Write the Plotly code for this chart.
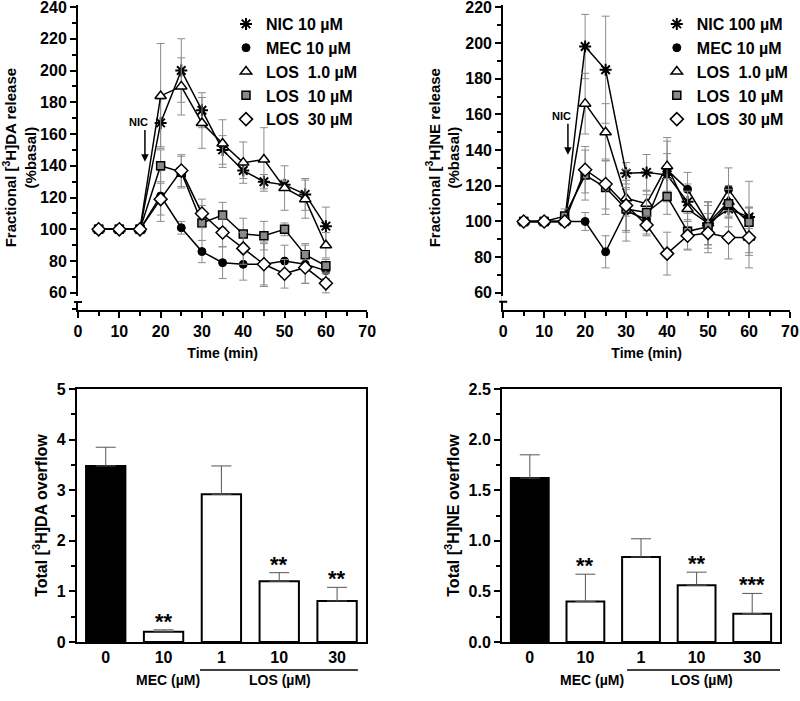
import plotly.graph_objects as go

# ---------------- data ----------------
time_min = [5, 10, 15, 20, 25, 30, 35, 40, 45, 50, 55, 60]

# [3H]DA fractional release (% basal)
nic_da = [100, 100, 100, 167, 200, 175, 150, 137, 130, 128, 122, 102]
nic_da_err = [0, 0, 0, 15, 20, 11, 9, 5, 4.5, 3, 10, 12]
mec_da = [100, 100, 100, 121, 101, 86, 79, 78, 78, 80, 78, 74]
mec_da_err = [0, 0, 0, 16, 4, 7, 10, 10, 13, 10, 12, 5]
los1_da = [100, 100, 100, 184, 190, 167, 154, 142, 144, 126, 119, 90]
los1_da_err = [0, 0, 0, 33, 18, 16, 15, 13, 20, 14, 12, 8]
los10_da = [100, 100, 100, 140, 136, 104, 109, 97, 96, 100, 84, 77]
los10_da_err = [0, 0, 0, 10, 10, 11, 8, 10, 9, 4, 7, 4]
los30_da = [100, 100, 100, 119, 137, 110, 98, 88, 78, 72, 76, 66]
los30_da_err = [0, 0, 0, 10, 10, 9, 9, 10, 14, 9, 10, 6]

# [3H]NE fractional release (% basal)
nic_ne = [100, 100, 100, 198, 185, 127, 127.5, 126, 111, 99, 107, 102.5]
nic_ne_err = [0, 0, 0, 18, 30, 6, 10, 12, 10, 12, 10, 20]
mec_ne = [100, 100, 100, 100, 83, 106, 101, 129, 118, 99, 118, 102]
mec_ne_err = [0, 0, 0, 5, 9, 12, 9, 18, 9.5, 12, 12, 6]
los1_ne = [100, 100, 100, 166, 150, 113, 110, 131, 107, 99, 111, 91]
los1_ne_err = [0, 0, 0, 17, 16, 10, 7, 14, 10, 12, 9, 10]
los10_ne = [100, 100, 103, 126, 119, 107, 105, 114, 94.5, 97, 110, 99.5]
los10_ne_err = [0, 0, 4, 14, 15, 12, 10, 10, 10, 12, 8, 8]
los30_ne = [100, 100, 100, 129, 121, 109, 98, 82, 92, 93.5, 91, 91]
los30_ne_err = [0, 0, 0, 13, 14, 20, 5, 12, 8, 11, 12, 17]

# Total overflow bars
bar_labels = ["0", "10", "1", "10", "30"]
da_total = [3.48, 0.2, 2.92, 1.2, 0.81]
da_total_err = [0.37, 0.04, 0.56, 0.17, 0.27]
da_stars = ["", "**", "", "**", "**"]
ne_total = [1.62, 0.4, 0.84, 0.56, 0.28]
ne_total_err = [0.23, 0.27, 0.18, 0.13, 0.2]
ne_stars = ["", "**", "", "**", "***"]

da_names = ["NIC 10 µM", "MEC 10 µM", "LOS\u00a0 1.0 µM", "LOS\u00a0 10 µM", "LOS\u00a0 30 µM"]
ne_names = ["NIC 100 µM", "MEC 10 µM", "LOS\u00a0 1.0 µM", "LOS\u00a0 10 µM", "LOS\u00a0 30 µM"]

# ---------------- styling ----------------
FONT = "Liberation Sans, Arial, sans-serif"
marker_styles = [
    dict(symbol="asterisk-open", size=10, color="black", line=dict(color="black", width=2)),
    dict(symbol="circle", size=8, color="black", line=dict(color="black", width=1)),
    dict(symbol="triangle-up", size=10, color="white", line=dict(color="black", width=1.5)),
    dict(symbol="square", size=8, color="#8a8a8a", line=dict(color="black", width=1.5)),
    dict(symbol="diamond", size=10, color="white", line=dict(color="black", width=1.5)),
]
ERR_COLOR = "#8c8c8c"

fig = go.Figure()


def add_time_panel(series, errs, names, xa, ya, legend):
    for vals, err, name, ms in zip(series, errs, names, marker_styles):
        fig.add_trace(go.Scatter(
            x=time_min, y=vals, mode="lines+markers", name=name,
            line=dict(color="black", width=1.5), marker=ms,
            error_y=dict(type="data", array=err, color=ERR_COLOR, thickness=1, width=4),
            xaxis=xa, yaxis=ya, showlegend=False,
        ))
    for name, ms in zip(names, marker_styles):
        fig.add_trace(go.Scatter(
            x=[None], y=[None], mode="markers", name=name, marker=ms,
            xaxis=xa, yaxis=ya, legend=legend, showlegend=True,
        ))


add_time_panel([nic_da, mec_da, los1_da, los10_da, los30_da],
               [nic_da_err, mec_da_err, los1_da_err, los10_da_err, los30_da_err],
               da_names, "x", "y", "legend")
add_time_panel([nic_ne, mec_ne, los1_ne, los10_ne, los30_ne],
               [nic_ne_err, mec_ne_err, los1_ne_err, los10_ne_err, los30_ne_err],
               ne_names, "x2", "y2", "legend2")


def add_bar_panel(vals, errs, stars, xa, ya):
    idx = list(range(len(vals)))
    fig.add_trace(go.Bar(
        x=idx, y=vals, width=0.68,
        marker=dict(color=["black"] + ["white"] * (len(vals) - 1),
                    line=dict(color="black", width=2)),
        error_y=dict(type="data", symmetric=False, array=errs, arrayminus=[0] * len(vals),
                     color="#555555", thickness=1, width=10),
        xaxis=xa, yaxis=ya, showlegend=False,
    ))
    for i, (v, e, s) in enumerate(zip(vals, errs, stars)):
        if s:
            fig.add_annotation(x=i, y=v + e, text=s, showarrow=False, xref=xa, yref=ya,
                               yanchor="bottom", yshift=-6,
                               font=dict(family=FONT, size=22, color="black", weight="bold"))


add_bar_panel(da_total, da_total_err, da_stars, "x3", "y3")
add_bar_panel(ne_total, ne_total_err, ne_stars, "x4", "y4")

tickfont = dict(family=FONT, size=16, color="black", weight="bold")
titlefont = dict(family=FONT, size=15, color="black", weight="bold")

time_x = dict(range=[0, 70], tickvals=[0, 10, 20, 30, 40, 50, 60, 70], showline=True,
              linecolor="black", linewidth=2, ticks="outside", ticklen=6, tickwidth=2,
              tickcolor="black", minor=dict(dtick=5, ticks="outside", ticklen=4, tickwidth=1.5,
                                            tickcolor="black"),
              showgrid=False, zeroline=False, tickfont=tickfont, automargin=False,
              ticklabeloverflow="allow",
              title=dict(text="Time (min)", font=dict(family=FONT, size=14, weight="bold"),
                         standoff=9))

def time_y(rng, top, title):
    return dict(range=rng, tickvals=list(range(60, top + 1, 20)), showline=True,
                linecolor="black", linewidth=2, ticks="outside", ticklen=6, tickwidth=2,
                tickcolor="black", automargin=False, ticklabeloverflow="allow",
                minor=dict(tickvals=list(range(50, top + 1, 10)), ticks="outside", ticklen=4,
                           tickwidth=1.5, tickcolor="black"),
                showgrid=False, zeroline=False, tickfont=tickfont,
                title=dict(text=title, font=titlefont, standoff=2))

def bar_x():
    return dict(range=[-0.5, 4.5], tickvals=[0, 1, 2, 3, 4], ticktext=bar_labels,
                showline=True, mirror=True, linecolor="black", linewidth=2, ticks="",
                showgrid=False, zeroline=False, tickfont=tickfont, automargin=False)

def bar_y(rng, dtick, minor, fmt, title):
    return dict(range=rng, dtick=dtick, tickformat=fmt, showline=True, mirror=True,
                linecolor="black", linewidth=2, ticks="outside", ticklen=6, tickwidth=2,
                tickcolor="black", automargin=False, ticklabeloverflow="allow",
                minor=dict(dtick=minor, ticks="outside", ticklen=4, tickwidth=1.5,
                           tickcolor="black"),
                showgrid=False, zeroline=False, tickfont=tickfont,
                title=dict(text=title, font=dict(family=FONT, size=16, weight="bold"),
                           standoff=5))

legend_font = dict(family=FONT, size=16, color="black", weight="bold")

fig.update_layout(
    width=800, height=701, margin=dict(l=0, r=0, t=0, b=0, autoexpand=False),
    paper_bgcolor="white", plot_bgcolor="white",
    font=dict(family=FONT, color="black"),
    xaxis=dict(domain=[0.0975, 0.459], anchor="y", **time_x),
    yaxis=dict(domain=[0.558, 0.9923], anchor="x",
               **time_y([49.3, 241], 240, "Fractional [<sup>3</sup>H]DA release<br>(%basal)")),
    xaxis2=dict(domain=[0.629, 0.9875], anchor="y2", **time_x),
    yaxis2=dict(domain=[0.558, 0.9922], anchor="x2",
                **time_y([50.5, 221], 220, "Fractional [<sup>3</sup>H]NE release<br>(%basal)")),
    xaxis3=dict(domain=[0.096, 0.4575], anchor="y3", **bar_x()),
    yaxis3=dict(domain=[0.0842, 0.445], anchor="x3",
                **bar_y([0, 5], 1, 0.5, "d", "Total [<sup>3</sup>H]DA overflow")),
    xaxis4=dict(domain=[0.6275, 0.975], anchor="y4", **bar_x()),
    yaxis4=dict(domain=[0.0842, 0.445], anchor="x4",
                **bar_y([0, 2.5], 0.5, 0.25, ".1f", "Total [<sup>3</sup>H]NE overflow")),
    legend=dict(x=0.2825, y=0.99, xanchor="left", yanchor="top", font=legend_font,
                bgcolor="rgba(0,0,0,0)", tracegroupgap=0),
    legend2=dict(x=0.821, y=0.99, xanchor="left", yanchor="top", font=legend_font,
                 bgcolor="rgba(0,0,0,0)", tracegroupgap=0),
)

# y-axis break marks near the bottom of the time-course axes
for ya, xpos, gap0, gap1, cap in [("y", 0.0975, 54.5, 58.0, 54.3),
                                   ("y2", 0.629, 55.2, 58.3, 55.0)]:
    fig.add_shape(type="line", xref="paper", yref=ya, x0=xpos, x1=xpos, y0=gap0, y1=gap1,
                  line=dict(color="white", width=4), layer="above")
    fig.add_shape(type="line", xref="paper", yref=ya, x0=xpos - 0.005, x1=xpos + 0.005,
                  y0=cap, y1=cap, line=dict(color="black", width=2), layer="above")

# NIC application arrows (label sits at the arrow's tail, slightly to the left)
small = dict(family=FONT, size=11, color="black", weight="bold")
nbsp = "\u00a0" * 4
fig.add_annotation(x=16.2, y=142.5, ax=16.2, ay=162.6, axref="x", ayref="y", xref="x", yref="y",
                   text="NIC" + nbsp, font=small, yanchor="bottom", showarrow=True,
                   arrowhead=2, arrowsize=1, arrowwidth=1.5, arrowcolor="black")
fig.add_annotation(x=15.8, y=137.4, ax=15.8, ay=154.7, axref="x2", ayref="y2", xref="x2",
                   yref="y2", text="NIC" + nbsp, font=small, yanchor="bottom", showarrow=True,
                   arrowhead=2, arrowsize=1, arrowwidth=1.5, arrowcolor="black")

# group labels under bar charts
grp_font = dict(family=FONT, size=14, color="black", weight="bold")
for xa, mec_x, los_x, l0, l1 in [("x3", 1.07, 3.01, 1.63, 4.36), ("x4", 1.12, 3.1, 1.75, 4.5)]:
    fig.add_shape(type="line", xref=xa, yref="paper", x0=l0, x1=l1, y0=0.0442, y1=0.0442,
                  line=dict(color="black", width=1.5))
    fig.add_annotation(x=mec_x, y=0.0157, xref=xa, yref="paper", text="MEC (µM)",
                       showarrow=False, font=grp_font)
    fig.add_annotation(x=los_x, y=0.0157, xref=xa, yref="paper", text="LOS (µM)",
                       showarrow=False, font=grp_font)

fig.write_html("out.html", config={"displayModeBar": False},
               post_script="document.body.style.margin='0';")
